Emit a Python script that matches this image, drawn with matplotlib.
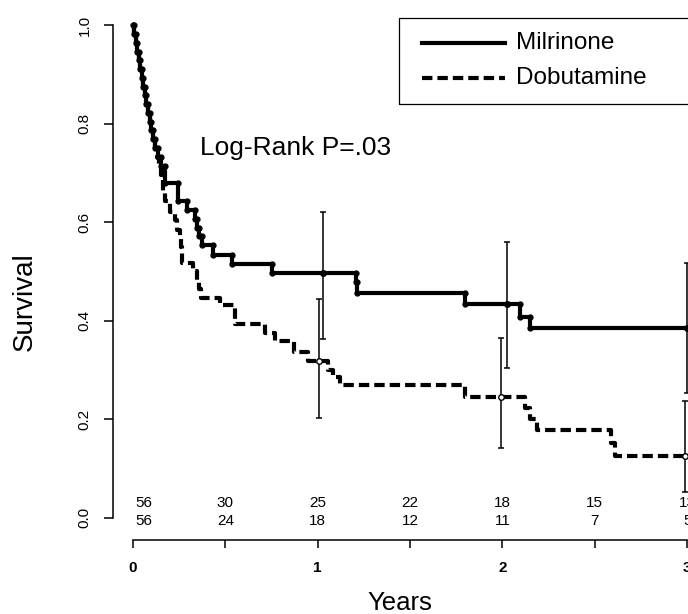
import numpy as np
import matplotlib
matplotlib.use("Agg")
import matplotlib.pyplot as plt
from matplotlib.patches import Rectangle
from matplotlib.lines import Line2D

plt.rcParams['font.family'] = ['Liberation Sans', 'DejaVu Sans']

# Kaplan-Meier steps (time in years, survival)
mil_t = [0.0, 0.008, 0.016, 0.024, 0.032, 0.04, 0.048, 0.056, 0.064, 0.072, 0.08,
         0.09, 0.10, 0.11, 0.119, 0.135, 0.15, 0.173, 0.245, 0.29, 0.336, 0.345,
         0.36, 0.375, 0.435, 0.535, 0.751, 1.21, 1.215, 1.80, 2.095, 2.15]
mil_s = [1.0, 0.982, 0.964, 0.946, 0.929, 0.911, 0.893, 0.875, 0.857, 0.839, 0.821,
         0.804, 0.786, 0.768, 0.75, 0.732, 0.714, 0.68, 0.643, 0.625, 0.607, 0.589,
         0.571, 0.553, 0.534, 0.516, 0.497, 0.478, 0.456, 0.434, 0.408, 0.385]

dob_t = [0.0, 0.008, 0.016, 0.024, 0.032, 0.04, 0.048, 0.056, 0.064, 0.072, 0.08,
         0.09, 0.10, 0.11, 0.119, 0.13, 0.14, 0.15, 0.16, 0.173, 0.20, 0.227, 0.24,
         0.254, 0.26, 0.264, 0.267, 0.327, 0.345, 0.355, 0.366, 0.471, 0.552, 0.715,
         0.769, 0.872, 0.949, 1.056, 1.085, 1.12, 1.80, 2.12, 2.15, 2.19, 2.25,
         2.59, 2.61]
dob_s = [1.0, 0.982, 0.964, 0.946, 0.929, 0.911, 0.893, 0.875, 0.857, 0.839, 0.821,
         0.804, 0.786, 0.768, 0.75, 0.732, 0.714, 0.696, 0.66, 0.642, 0.621, 0.604, 0.584,
         0.568, 0.55, 0.535, 0.517, 0.5, 0.483, 0.464, 0.446, 0.432, 0.393, 0.376,
         0.358, 0.337, 0.319, 0.30, 0.285, 0.27, 0.245, 0.222, 0.20, 0.178, 0.178,
         0.152, 0.126]

# confidence intervals at 1, 2 and 3 years
mil_ci_x = [1.03, 2.025, 3.0]
mil_ci_s = [0.497, 0.434, 0.385]
mil_ci_lo = [0.363, 0.304, 0.253]
mil_ci_hi = [0.621, 0.56, 0.517]

dob_ci_x = [1.007, 1.99, 2.99]
dob_ci_s = [0.318, 0.245, 0.126]
dob_ci_lo = [0.203, 0.142, 0.053]
dob_ci_hi = [0.444, 0.365, 0.237]

# numbers at risk
risk_t = [0, 0.5, 1, 1.5, 2, 2.5, 3]
risk_mil = [56, 30, 25, 22, 18, 15, 13]
risk_dob = [56, 24, 18, 12, 11, 7, 5]

t_end = 3.05


def step_xy(t, s, end):
    x = np.repeat(t, 2)[1:]
    y = np.repeat(s, 2)[:-1]
    return np.append(x, end), np.append(y, s[-1])


W, H = 688, 614
fig = plt.figure(figsize=(W / 100, H / 100), dpi=100)
ax = fig.add_axes([113 / W, 74 / H, 648 / W, 529.8 / H])
ax.set_xlim(-0.108, 3.4)
ax.set_ylim(-0.045, 1.03)

mx, my = step_xy(mil_t, mil_s, t_end)
ax.plot(mx, my, color='black', lw=3, marker='o', ms=3.5, solid_capstyle='butt')

dx, dy = step_xy(dob_t, dob_s, t_end)
ax.plot(dx, dy, color='black', lw=3, dashes=(2.5, 1.2), dash_capstyle='butt')

ax.errorbar(mil_ci_x, mil_ci_s,
            yerr=[np.subtract(mil_ci_s, mil_ci_lo), np.subtract(mil_ci_hi, mil_ci_s)],
            fmt='o', color='black', ms=4, elinewidth=1.1, capsize=2.5, capthick=1.1)
ax.errorbar(dob_ci_x, dob_ci_s,
            yerr=[np.subtract(dob_ci_s, dob_ci_lo), np.subtract(dob_ci_hi, dob_ci_s)],
            fmt='o', color='black', mfc='white', ms=4, elinewidth=1.1,
            capsize=2.5, capthick=1.1)

for i, t in enumerate(risk_t):
    ha = 'left' if i == 0 else 'center'
    xt = t + 0.015 if i == 0 else t
    ax.text(xt, 0.031, str(risk_mil[i]), ha=ha, va='center', fontsize=11)
    ax.text(xt, -0.007, str(risk_dob[i]), ha=ha, va='center', fontsize=11)

ax.text(0.363, 0.75, 'Log-Rank P=.03', ha='left', va='center', fontsize=19)

# axes in R style
for side in ['top', 'right']:
    ax.spines[side].set_visible(False)
ax.spines['left'].set_bounds(0, 1)
ax.spines['bottom'].set_bounds(0, 3)
ax.spines['left'].set_linewidth(1.1)
ax.spines['bottom'].set_linewidth(1.1)
ax.set_xticks([0, 0.5, 1, 1.5, 2, 2.5, 3])
ax.set_xticklabels(['0', '', '1', '', '2', '', '3'], fontsize=11, fontweight='bold')
ax.set_yticks([0, 0.2, 0.4, 0.6, 0.8, 1.0])
ax.set_yticklabels(['0.0', '0.2', '0.4', '0.6', '0.8', '1.0'], rotation=90,
                   va='center', fontsize=11)
ax.tick_params(axis='x', length=6, width=1.1, pad=9)
ax.tick_params(axis='y', length=6.5, width=1.1, pad=9)

ax.set_xlabel('Years', fontsize=18.5)
ax.xaxis.set_label_coords(0.443, -0.096)
ax.set_ylabel('Survival', fontsize=20)
ax.yaxis.set_label_coords(-0.116, 0.449)

# legend box, open on the right like the cropped original
fig.patches.append(Rectangle((399 / W, 1 - 104 / H), 0.6, 86 / H,
                             transform=fig.transFigure, fill=False,
                             edgecolor='black', lw=0.9))
fig.lines.append(Line2D([422 / W, 505 / W], [1 - 43 / H, 1 - 43 / H],
                        transform=fig.transFigure, color='black', lw=3))
fig.lines.append(Line2D([422 / W, 505 / W], [1 - 78 / H, 1 - 78 / H],
                        transform=fig.transFigure, color='black', lw=3,
                        dashes=(2.5, 1.2)))
fig.text(516 / W, 1 - 43 / H, 'Milrinone', ha='left', va='center', fontsize=17.5)
fig.text(516 / W, 1 - 78 / H, 'Dobutamine', ha='left', va='center', fontsize=17.5)

fig.savefig('out.png', dpi=100)
